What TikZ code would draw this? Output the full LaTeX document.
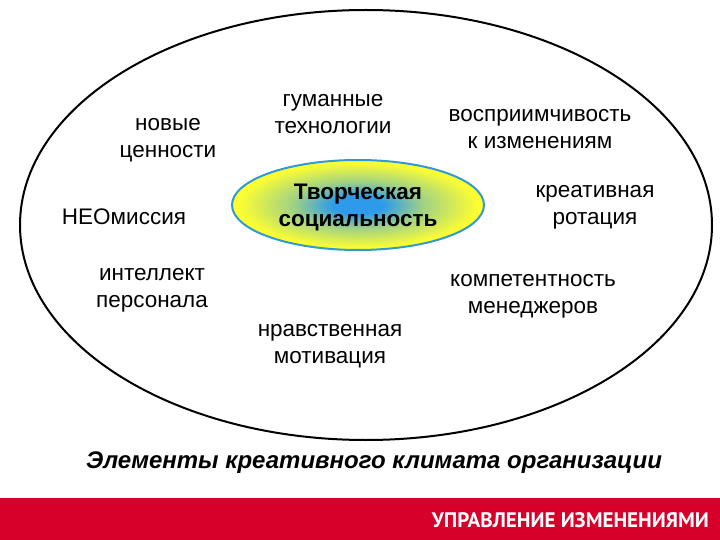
\documentclass[tikz,border=0pt]{standalone}
\usepackage{fontspec}
\setmainfont{Liberation Sans}
\newfontfamily\capfont{Liberation Sans}
\newfontfamily\barfont{PT Sans}
\usetikzlibrary{shapes.geometric}
\definecolor{barred}{HTML}{D7002A}
\definecolor{rimblue}{HTML}{2F9AD4}
\definecolor{coreblue}{HTML}{2E9BEA}
\definecolor{sunyellow}{HTML}{FFFF30}
\pgfdeclareradialshading{coreshade}{\pgfpoint{0bp}{0bp}}{%
  color(0bp)=(coreblue); color(5bp)=(coreblue); color(13bp)=(coreblue!45!sunyellow);
  color(24bp)=(sunyellow); color(50bp)=(sunyellow)}
\tikzset{
  item/.style={align=center, font=\fontsize{22.5}{27}\selectfont, inner sep=0pt},
}
\begin{document}
\begin{tikzpicture}[x=1pt,y=-1pt]
\useasboundingbox (0,0) rectangle (720,540);
\fill[white] (0,0) rectangle (720,540);
% outer ellipse
\draw[line width=2pt] (366,225) ellipse [x radius=346, y radius=215];
% center ellipse
\node[ellipse, draw=rimblue, line width=2pt, minimum width=252pt, minimum height=90pt,
      shading=coreshade] (core) at (358,205) {};
\node[align=center, inner sep=0pt, font=\bfseries\fontsize{22.5}{27}\selectfont] (coretext) at (358,208) {Творческая\\социальность};
\node[item] (hum) at (333,114) {гуманные\\технологии};
\node[item] (val) at (168,140) {новые\\ценности};
\node[item] (rec) at (540,129) {восприимчивость\\к изменениям};
\node[item] (neo) at (124,217) {НЕОмиссия};
\node[item] (rot) at (595,207) {креативная\\ротация};
\node[item] (int) at (152,290) {интеллект\\персонала};
\node[item] (com) at (533,296) {компетентность\\менеджеров};
\node[item] (mor) at (330,346) {нравственная\\мотивация};
% caption
\node[font=\capfont\itshape\bfseries\fontsize{24}{28}\selectfont, inner sep=0pt] (cap) at (374,463) {Элементы креативного климата организации};
% bottom bar
\fill[barred] (0,498) rectangle (720,540);
\node[font=\barfont\bfseries\fontsize{21}{23}\selectfont, text=white, anchor=east, inner sep=0pt] (bar) at (709,520) {УПРАВЛЕНИЕ ИЗМЕНЕНИЯМИ};
\end{tikzpicture}
\end{document}
